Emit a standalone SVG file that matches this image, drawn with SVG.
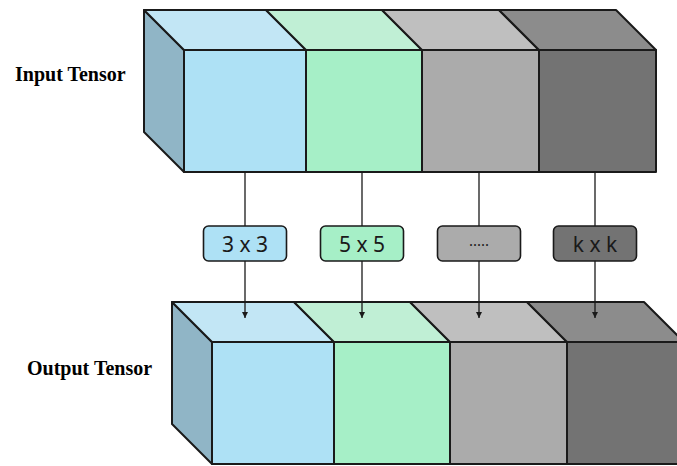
<svg xmlns="http://www.w3.org/2000/svg" width="677" height="466" viewBox="0 0 677 466">
<style>
.e{stroke:#1a1a1a;stroke-width:2;stroke-linejoin:round}
.side{fill:#90B5C6}
.bT{fill:#C2E6F5}.bF{fill:#AEE1F5}
.gT{fill:#C0EFD5}.gF{fill:#A6EFC7}
.sT{fill:#BFBFBF}.sF{fill:#ABABAB}
.dT{fill:#8C8C8C}.dF{fill:#737373}
.ttl{font-family:"Liberation Serif","Times New Roman",serif;font-weight:bold;font-size:20px;fill:#000}
.lb{stroke:#1a1a1a;stroke-width:1.6}
.lt{font-family:"Noto Sans","Open Sans",sans-serif;font-size:21px;fill:#1a1a1a;text-anchor:middle}
.c{stroke:#1a1a1a;stroke-width:1.3;fill:none}
</style>
<defs>
<marker id="ah" viewBox="0 0 10 10" refX="10" refY="5" markerWidth="6" markerHeight="6" markerUnits="userSpaceOnUse" orient="auto">
<path d="M0,0 L10,5 L0,10 z" fill="#1a1a1a"/>
</marker>
<g id="tensor">
<polygon class="e side" points="-40,-40 0,0 0,122 -40,82"/>
<polygon class="e bT" points="-40,-40 82,-40 122,0 0,0"/>
<polygon class="e gT" points="82,-40 198,-40 238,0 122,0"/>
<polygon class="e sT" points="198,-40 315,-40 355,0 238,0"/>
<polygon class="e dT" points="315,-40 432,-40 472,0 355,0"/>
<rect class="e bF" x="0" y="0" width="122" height="122"/>
<rect class="e gF" x="122" y="0" width="116" height="122"/>
<rect class="e sF" x="238" y="0" width="117" height="122"/>
<rect class="e dF" x="355" y="0" width="117" height="122"/>
</g>
</defs>
<g id="input-tensor">
<use href="#tensor" x="184" y="50"/>
<text class="ttl" x="15" y="81">Input Tensor</text>
</g>
<g id="output-tensor">
<use href="#tensor" x="212" y="342"/>
<text class="ttl" x="27" y="375">Output Tensor</text>
</g>
<g id="connectors">
<line class="c" x1="245" y1="172" x2="245" y2="226"/>
<line class="c" x1="362" y1="172" x2="362" y2="226"/>
<line class="c" x1="479" y1="172" x2="479" y2="226"/>
<line class="c" x1="595" y1="172" x2="595" y2="226"/>
<line class="c" x1="245" y1="261" x2="245" y2="318" marker-end="url(#ah)"/>
<line class="c" x1="362" y1="261" x2="362" y2="318" marker-end="url(#ah)"/>
<line class="c" x1="479" y1="261" x2="479" y2="318" marker-end="url(#ah)"/>
<line class="c" x1="595" y1="261" x2="595" y2="318" marker-end="url(#ah)"/>
</g>
<g id="k3">
<rect class="lb bF" x="203.5" y="226" width="83" height="35" rx="5"/>
<text class="lt" x="245" y="252">3 x 3</text>
</g>
<g id="k5">
<rect class="lb gF" x="320.5" y="226" width="83" height="35" rx="5"/>
<text class="lt" x="362" y="252">5 x 5</text>
</g>
<g id="kdots">
<rect class="lb sF" x="437.5" y="226" width="83" height="35" rx="5"/>
<text class="lt" x="479" y="246" style="font-size:15px">.....</text>
</g>
<g id="kk">
<rect class="lb dF" x="553.5" y="226" width="83" height="35" rx="5"/>
<text class="lt" x="595" y="252">k x k</text>
</g>
</svg>
